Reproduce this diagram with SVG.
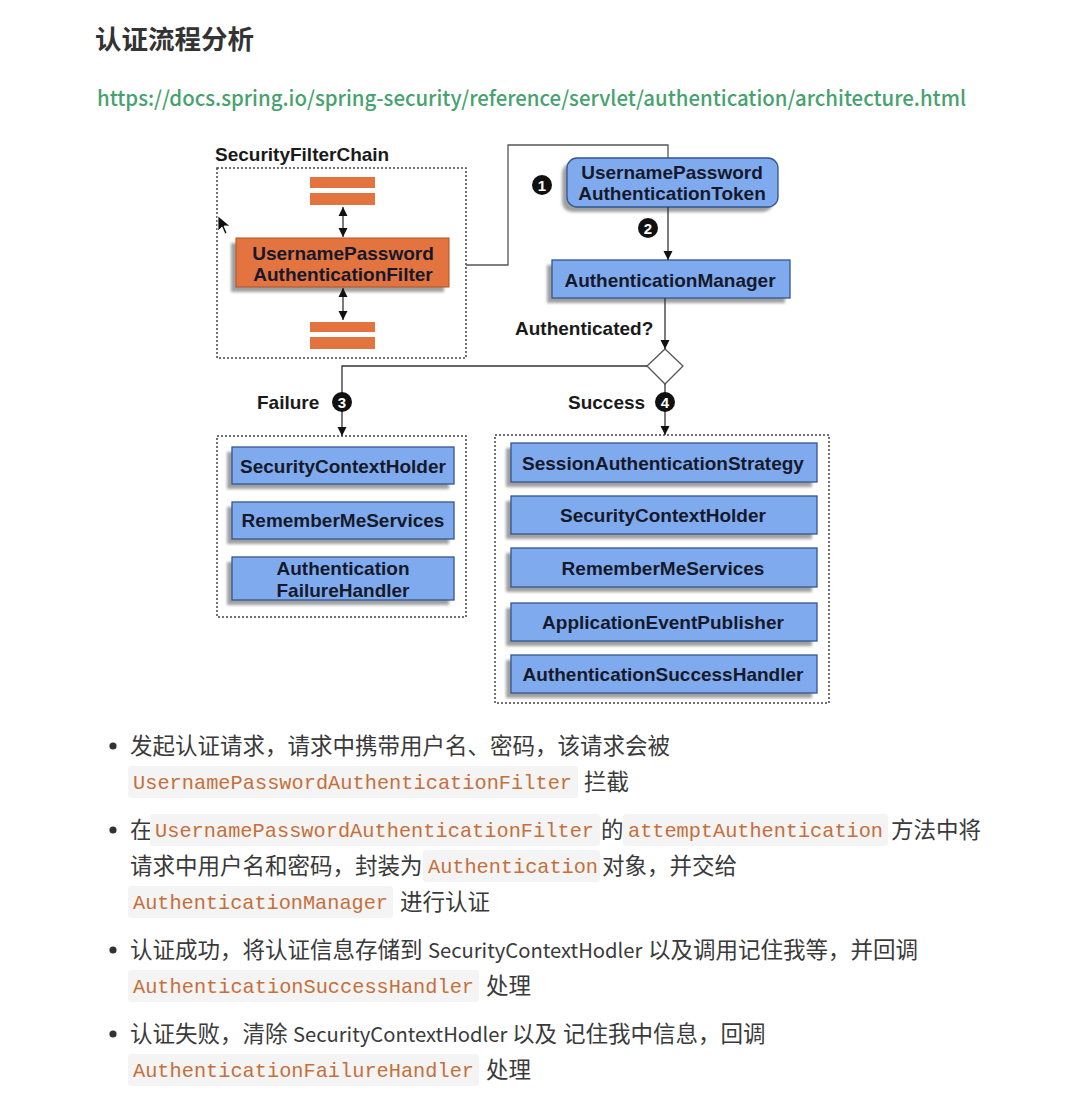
<svg xmlns="http://www.w3.org/2000/svg" width="1079" height="1099" viewBox="0 0 1079 1099">
<defs>
  <filter id="blur" x="-20%" y="-30%" width="140%" height="160%"><feGaussianBlur stdDeviation="1.6"/></filter>
  <marker id="arr" viewBox="0 0 10 10" refX="10" refY="5" markerWidth="9" markerHeight="10" markerUnits="userSpaceOnUse" orient="auto-start-reverse">
    <path d="M0,0 L10,5 L0,10 z" fill="#111"/>
  </marker>
  <style>
    .dia{font-family:"Liberation Sans",Arial,sans-serif;font-weight:bold;font-size:19px;fill:#16192b;text-anchor:middle}
    .lbl{font-family:"Liberation Sans",Arial,sans-serif;font-weight:bold;font-size:19px;fill:#1a1a1a}
    .blue{fill:#7fabee;stroke:#34558f;stroke-width:1.3}
    .orange{fill:#e3733f;stroke:#b0552a;stroke-width:1}
    .bar{fill:#e3733f}
    .shadow{fill:#8f8f8f;filter:url(#blur);opacity:0.85}
    .dots{fill:none;stroke:#444;stroke-width:1.5;stroke-dasharray:2 2}
    .ln{fill:none;stroke:#333;stroke-width:1.3}
    .badge{fill:#111}
    .bnum{font-family:"Liberation Sans",Arial,sans-serif;font-weight:bold;font-size:15px;fill:#fff;text-anchor:middle}
    .body{font-family:"Noto Sans CJK SC","Noto Sans",sans-serif;font-size:22.5px;fill:#3a3a3a}
    .lat{font-family:"Noto Sans CJK SC","Noto Sans",sans-serif;font-size:20.2px;fill:#3a3a3a}
    .code{font-family:"Liberation Mono","DejaVu Sans Mono",monospace;font-size:20.3px;fill:#c4703c}
    .cbg{fill:#f4f4f4}
  </style>
</defs>
<rect width="1079" height="1099" fill="#ffffff"/>

<g id="header">
  <text x="95" y="49" font-family="'Noto Sans CJK SC','Noto Sans',sans-serif" font-size="26.5" font-weight="bold" fill="#333">认证流程分析</text>
  <text x="97" y="106" font-family="'Noto Sans CJK SC','Noto Sans',sans-serif" font-size="21" font-weight="500" fill="#46a26f" textLength="869" lengthAdjust="spacingAndGlyphs">https://docs.spring.io/spring-security/reference/servlet/authentication/architecture.html</text>
</g>

<g id="security-filter-chain">
  <text class="lbl" x="215" y="161">SecurityFilterChain</text>
  <rect class="dots" x="217" y="168" width="249" height="190"/>
  <rect class="bar" x="310" y="177" width="65" height="11"/>
  <rect class="bar" x="310" y="193" width="65" height="12"/>
  <rect class="bar" x="310" y="322" width="65" height="10"/>
  <rect class="bar" x="310" y="337" width="65" height="12"/>
  <path d="M218,216 L218,231 L222,227 L225,234 L227,233 L224,226 L230,226 z" fill="#111" stroke="#fff" stroke-width="0.8"/>
</g>

<g id="username-password-filter">
  <rect class="shadow" x="231" y="243" width="213" height="49"/>
  <rect class="orange" x="236" y="238" width="213" height="49"/>
  <text class="dia" x="343" y="260">UsernamePassword</text>
  <text class="dia" x="343" y="281">AuthenticationFilter</text>
</g>

<g id="token">
  <rect class="shadow" x="562" y="163" width="211" height="49" rx="10"/>
  <rect class="blue" x="567" y="158" width="211" height="49" rx="10"/>
  <text class="dia" x="672" y="179">UsernamePassword</text>
  <text class="dia" x="672" y="200">AuthenticationToken</text>
</g>

<g id="authentication-manager">
  <rect class="shadow" x="547" y="265" width="238" height="38"/>
  <rect class="blue" x="552" y="260" width="238" height="38"/>
  <text class="dia" x="670" y="287">AuthenticationManager</text>
</g>

<g id="decision">
  <path d="M665,349 L683,366 L665,384 L647,366 z" fill="#fff" stroke="#555" stroke-width="1.3"/>
  <text class="lbl" x="515" y="335">Authenticated?</text>
</g>

<g id="failure-group">
  <text class="lbl" x="257" y="409">Failure</text>
  <rect class="dots" x="217" y="436" width="249" height="181"/>
  <g id="failure-sch">
    <rect class="shadow" x="227" y="452" width="222" height="37"/>
    <rect class="blue" x="232" y="447" width="222" height="37"/>
    <text class="dia" x="343" y="473">SecurityContextHolder</text>
  </g>
  <g id="failure-rms">
    <rect class="shadow" x="227" y="507" width="222" height="37"/>
    <rect class="blue" x="232" y="502" width="222" height="37"/>
    <text class="dia" x="343" y="527">RememberMeServices</text>
  </g>
  <g id="failure-handler">
    <rect class="shadow" x="227" y="562" width="222" height="43"/>
    <rect class="blue" x="232" y="557" width="222" height="43"/>
    <text class="dia" x="343" y="575">Authentication</text>
    <text class="dia" x="343" y="597">FailureHandler</text>
  </g>
</g>

<g id="success-group">
  <text class="lbl" x="568" y="409">Success</text>
  <rect class="dots" x="495" y="435" width="334" height="268"/>
  <g id="success-sas">
    <rect class="shadow" x="506" y="448" width="306" height="39"/>
    <rect class="blue" x="511" y="443" width="306" height="39"/>
    <text class="dia" x="663" y="470">SessionAuthenticationStrategy</text>
  </g>
  <g id="success-sch">
    <rect class="shadow" x="506" y="501" width="306" height="38"/>
    <rect class="blue" x="511" y="496" width="306" height="38"/>
    <text class="dia" x="663" y="522">SecurityContextHolder</text>
  </g>
  <g id="success-rms">
    <rect class="shadow" x="506" y="553" width="306" height="39"/>
    <rect class="blue" x="511" y="548" width="306" height="39"/>
    <text class="dia" x="663" y="575">RememberMeServices</text>
  </g>
  <g id="success-aep">
    <rect class="shadow" x="506" y="608" width="306" height="38"/>
    <rect class="blue" x="511" y="603" width="306" height="38"/>
    <text class="dia" x="663" y="629">ApplicationEventPublisher</text>
  </g>
  <g id="success-handler">
    <rect class="shadow" x="506" y="660" width="306" height="38"/>
    <rect class="blue" x="511" y="655" width="306" height="38"/>
    <text class="dia" x="663" y="681">AuthenticationSuccessHandler</text>
  </g>
</g>

<g id="connectors">
  <line class="ln" x1="343" y1="207" x2="343" y2="237" marker-start="url(#arr)" marker-end="url(#arr)"/>
  <line class="ln" x1="343" y1="288" x2="343" y2="320" marker-start="url(#arr)" marker-end="url(#arr)"/>
  <polyline fill="none" stroke="#555" stroke-width="1.3" points="466,265 508,265 508,145 668,145 668,158"/>
  <line class="ln" x1="668" y1="207" x2="668" y2="260" marker-end="url(#arr)"/>
  <line class="ln" x1="665" y1="298" x2="665" y2="349" marker-end="url(#arr)"/>
  <polyline class="ln" points="647,366 342,366 342,436" marker-end="url(#arr)"/>
  <line class="ln" x1="665" y1="384" x2="665" y2="435" marker-end="url(#arr)"/>
</g>

<g id="badges">
  <circle class="badge" cx="542" cy="185" r="10"/><text class="bnum" x="542" y="190.5">1</text>
  <circle class="badge" cx="648" cy="228" r="10"/><text class="bnum" x="648" y="233.5">2</text>
  <circle class="badge" cx="342" cy="402" r="10"/><text class="bnum" x="342" y="407.5">3</text>
  <circle class="badge" cx="665" cy="402" r="10"/><text class="bnum" x="665" y="407.5">4</text>
</g>

<g id="notes">
  <circle cx="113" cy="746" r="3.6" fill="#333"/>
  <text class="body" x="130" y="754">发起认证请求，请求中携带用户名、密码，该请求会被</text>
  <rect class="cbg" x="128" y="766" width="450" height="32" rx="3"/>
  <text class="code" x="133" y="789" textLength="439">UsernamePasswordAuthenticationFilter</text>
  <text class="body" x="584" y="790">拦截</text>

  <circle cx="113" cy="830" r="3.6" fill="#333"/>
  <text class="body" x="130" y="838">在</text>
  <rect class="cbg" x="150" y="814" width="450" height="32" rx="3"/>
  <text class="code" x="155" y="837" textLength="439">UsernamePasswordAuthenticationFilter</text>
  <text class="body" x="601" y="838">的</text>
  <rect class="cbg" x="623" y="814" width="265" height="32" rx="3"/>
  <text class="code" x="628" y="837" textLength="255">attemptAuthentication</text>
  <text class="body" x="891" y="838">方法中将</text>

  <text class="body" x="130" y="874">请求中用户名和密码，封装为</text>
  <rect class="cbg" x="423" y="850" width="177" height="32" rx="3"/>
  <text class="code" x="428" y="873" textLength="170">Authentication</text>
  <text class="body" x="602" y="874">对象，并交给</text>

  <rect class="cbg" x="128" y="886" width="265" height="32" rx="3"/>
  <text class="code" x="133" y="909" textLength="255">AuthenticationManager</text>
  <text class="body" x="400" y="910">进行认证</text>

  <circle cx="113" cy="950" r="3.6" fill="#333"/>
  <text class="body" x="130" y="958">认证成功，将认证信息存储到</text>
  <text class="lat" x="428" y="958">SecurityContextHodler</text>
  <text class="body" x="648" y="958">以及调用记住我等，并回调</text>
  <rect class="cbg" x="128" y="970" width="351" height="32" rx="3"/>
  <text class="code" x="133" y="993" textLength="341">AuthenticationSuccessHandler</text>
  <text class="body" x="486" y="994">处理</text>

  <circle cx="113" cy="1034" r="3.6" fill="#333"/>
  <text class="body" x="130" y="1042">认证失败，清除</text>
  <text class="lat" x="293" y="1042">SecurityContextHodler</text>
  <text class="body" x="512" y="1042">以及</text>
  <text class="body" x="563" y="1042">记住我中信息，回调</text>
  <rect class="cbg" x="128" y="1054" width="351" height="32" rx="3"/>
  <text class="code" x="133" y="1077" textLength="341">AuthenticationFailureHandler</text>
  <text class="body" x="486" y="1078">处理</text>
</g>
</svg>
